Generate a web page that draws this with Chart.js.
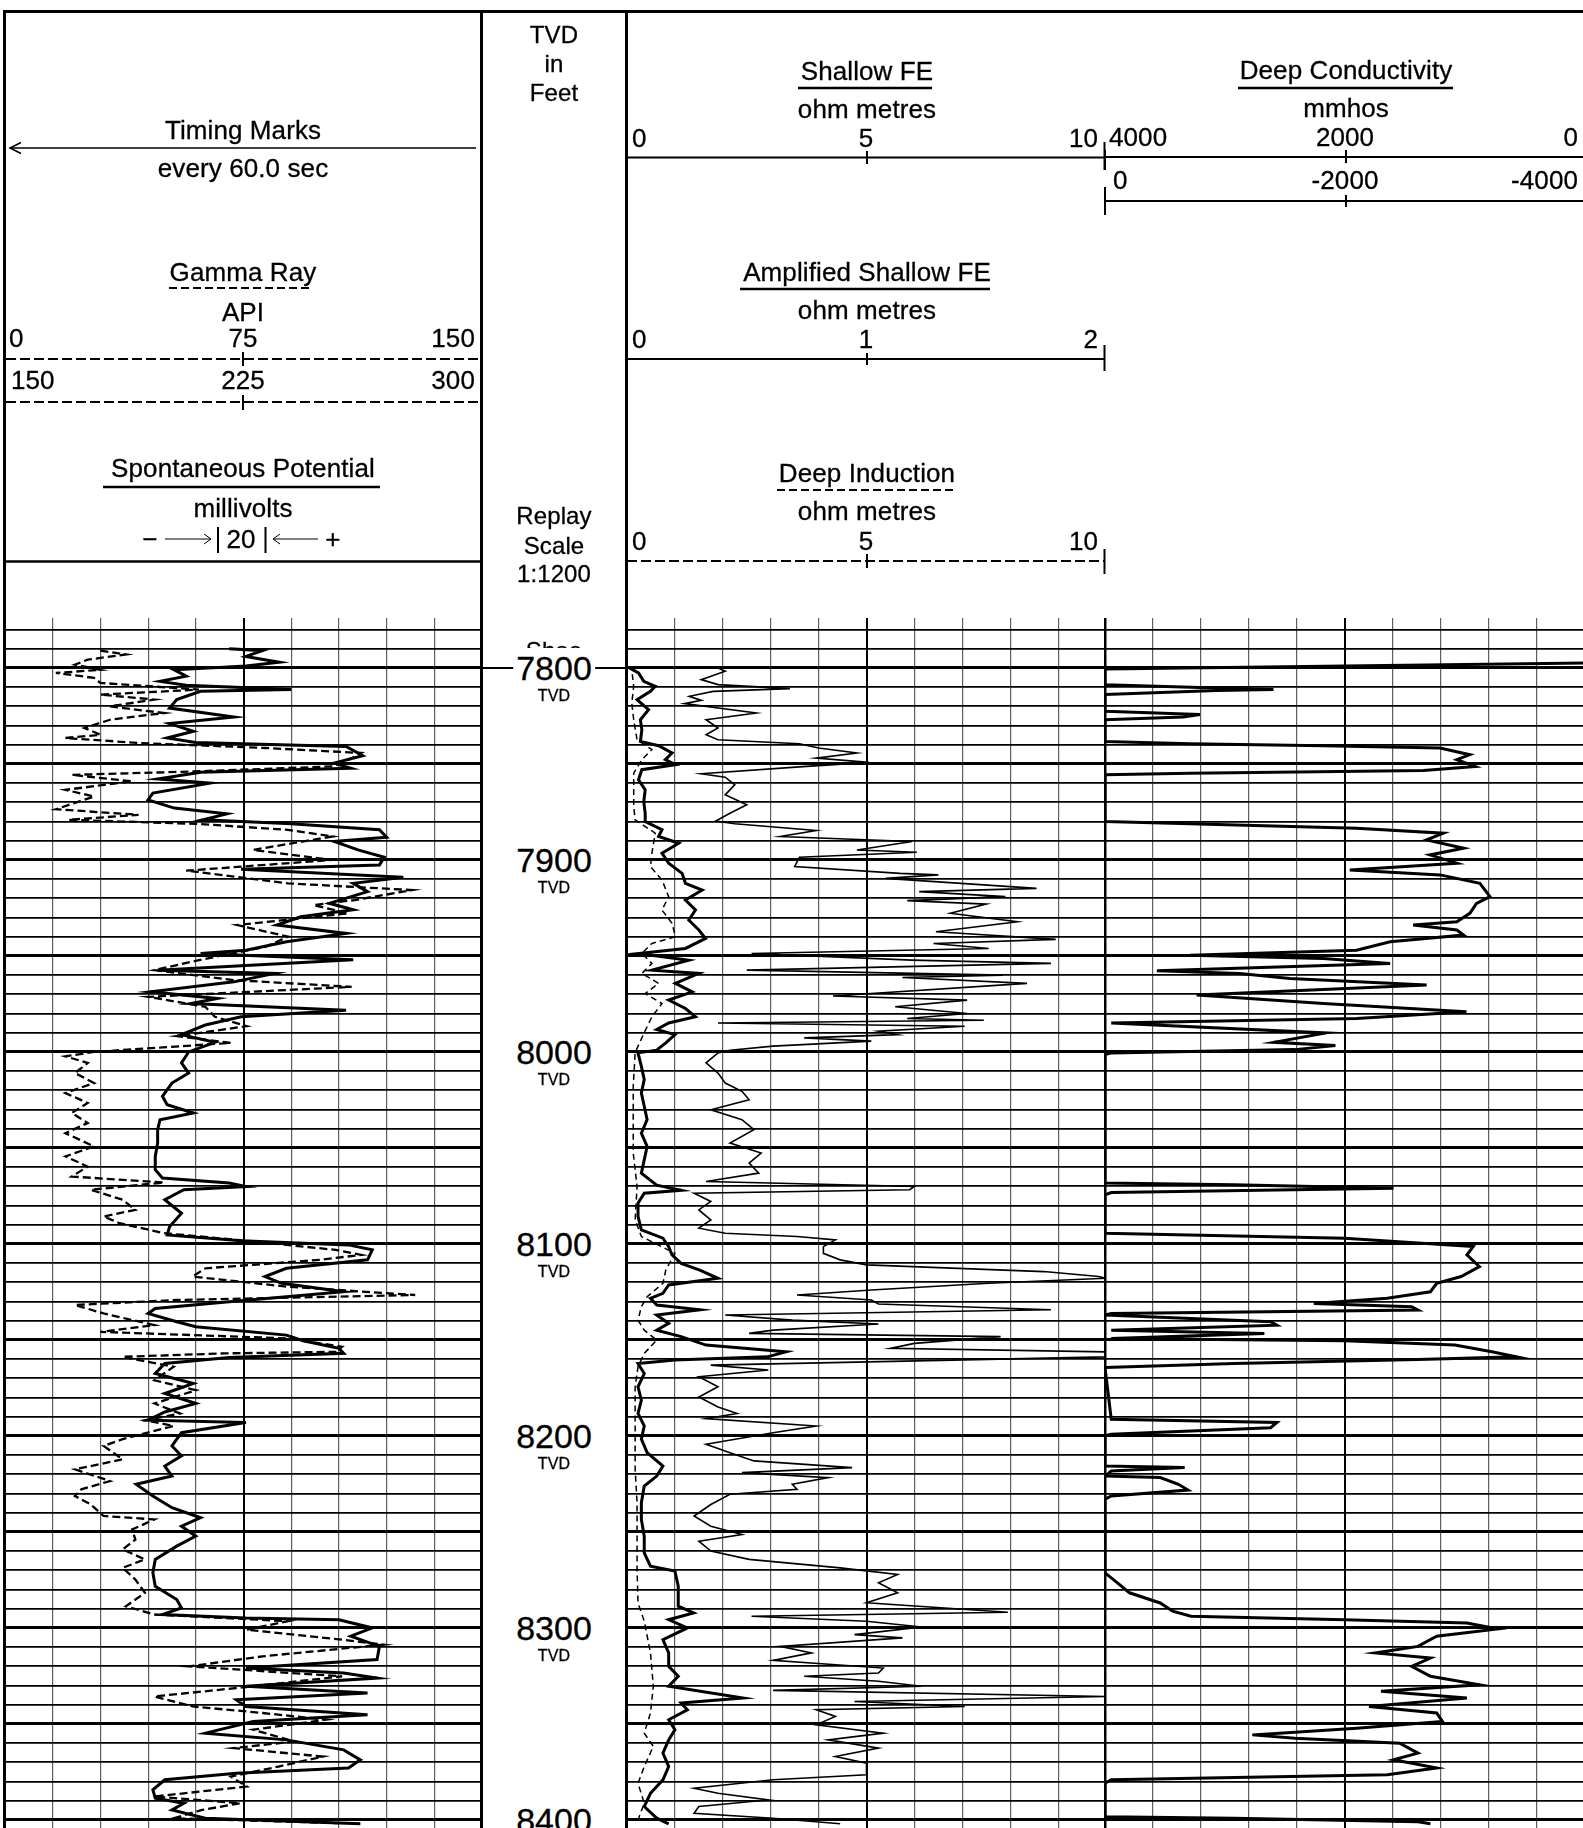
<!DOCTYPE html>
<html>
<head>
<meta charset="utf-8">
<script src="https://cdn.jsdelivr.net/npm/chart.js@4.4.1/dist/chart.umd.min.js"></script>
<style>
html, body { margin: 0; padding: 0; background: #fff; overflow: hidden; width: 1583px; height: 1828px; }
#page { position: relative; width: 1583px; height: 1828px; overflow: hidden; font-family: "Liberation Sans", Arial, sans-serif; color: #000; }
canvas { position: absolute; }
svg { position: absolute; left: 0; top: 0; }
.t { position: absolute; white-space: nowrap; line-height: 1; font-size: 26px; letter-spacing: 0.1px; -webkit-text-stroke: 0.3px #000; }
</style>
</head>
<body>
<div id="page">
  <canvas id="trk1" width="490" height="1228" style="left:0;top:600px"></canvas>
  <canvas id="trk2" width="490" height="1228" style="left:620px;top:600px"></canvas>
  <canvas id="trk3" width="490" height="1228" style="left:1100px;top:600px"></canvas>
  <svg width="1583" height="1828" stroke="#000" fill="none">
    <line x1="3" y1="11.5" x2="1583" y2="11.5" stroke-width="3"/>
    <line x1="4.5" y1="10" x2="4.5" y2="1828" stroke-width="3"/>
    <line x1="481.5" y1="10" x2="481.5" y2="1828" stroke-width="3"/>
    <line x1="626.5" y1="10" x2="626.5" y2="1828" stroke-width="3"/>
    <line x1="3" y1="561.5" x2="483" y2="561.5" stroke-width="2.5"/>
    <!-- timing marks arrow -->
    <line x1="10" y1="148" x2="476" y2="148" stroke-width="1.5"/>
    <polyline points="21,142.5 10,148 21,153.5" stroke-width="1.5"/>
    <!-- gamma ray -->
    <line x1="169" y1="288" x2="313" y2="288" stroke-width="2" stroke-dasharray="8 4"/>
    <line x1="6" y1="359" x2="480" y2="359" stroke-width="2" stroke-dasharray="10 4"/>
    <line x1="243" y1="352" x2="243" y2="366" stroke-width="2"/>
    <line x1="6" y1="402" x2="480" y2="402" stroke-width="2" stroke-dasharray="10 4"/>
    <line x1="243" y1="395" x2="243" y2="410" stroke-width="2"/>
    <!-- spontaneous potential -->
    <line x1="103" y1="487" x2="380" y2="487" stroke-width="2.5"/>
    <line x1="165" y1="539" x2="211" y2="539" stroke-width="1"/>
    <polyline points="204,534 211,539 204,544" stroke-width="1"/>
    <line x1="218" y1="527" x2="218" y2="553" stroke-width="2"/>
    <line x1="265.5" y1="527" x2="265.5" y2="553" stroke-width="2"/>
    <line x1="273" y1="539" x2="318" y2="539" stroke-width="1"/>
    <polyline points="280,534 273,539 280,544" stroke-width="1"/>
    <!-- track 2 scales -->
    <line x1="798" y1="88" x2="932" y2="88" stroke-width="2.5"/>
    <line x1="627" y1="157.5" x2="1104" y2="157.5" stroke-width="2"/>
    <line x1="867" y1="151" x2="867" y2="164" stroke-width="2"/>
    <line x1="1104.5" y1="142" x2="1104.5" y2="170" stroke-width="2"/>
    <line x1="740" y1="289" x2="990" y2="289" stroke-width="2.5"/>
    <line x1="627" y1="359" x2="1104" y2="359" stroke-width="2"/>
    <line x1="867" y1="353" x2="867" y2="365" stroke-width="2"/>
    <line x1="1104.5" y1="345" x2="1104.5" y2="371" stroke-width="2"/>
    <line x1="777" y1="490" x2="953" y2="490" stroke-width="2" stroke-dasharray="8 4"/>
    <line x1="627" y1="561" x2="1104" y2="561" stroke-width="2" stroke-dasharray="10 4"/>
    <line x1="867" y1="554" x2="867" y2="568" stroke-width="2"/>
    <line x1="1104.5" y1="549" x2="1104.5" y2="574" stroke-width="2"/>
    <!-- track 3 scales -->
    <line x1="1238" y1="88" x2="1453" y2="88" stroke-width="2.5"/>
    <line x1="1106" y1="157" x2="1583" y2="157" stroke-width="2"/>
    <line x1="1346" y1="150" x2="1346" y2="163" stroke-width="2"/>
    <line x1="1105" y1="150" x2="1105" y2="170" stroke-width="2"/>
    <line x1="1106" y1="201" x2="1583" y2="201" stroke-width="2"/>
    <line x1="1346" y1="195" x2="1346" y2="207" stroke-width="2"/>
    <line x1="1105" y1="187" x2="1105" y2="215" stroke-width="2"/>
    <!-- shoe marker in depth track -->
    <line x1="483" y1="668" x2="625" y2="668" stroke-width="2"/>
  </svg>
</div>
<script>
// Track 1: Gamma Ray (API) and Spontaneous Potential (mV)
var grDepth = [7791,7793,7795.7,7798.3,7801,7802.6,7805.2,7807.8,7811.3,7813.9,7816.5,7820,7823.5,7827,7831.3,7834.8,7836.5,7839.1,7841.7,7844.3,7847,7851.3,7854,7855.7,7859.1,7863.5,7867,7873.6,7876.5,7879.1,7881.2,7884.3,7887.8,7894.8,7900,7905.6,7912.2,7915.7,7920.9,7923.5,7927.8,7933.9,7940,7945.2,7952.2,7957.4,7962.6,7966.1,7971.3,7976.5,7981.7,7986.6,7991.8,7995.3,8000,8002.3,8005.7,8011,8016.2,8021.4,8026.6,8031.8,8037,8042.3,8049.2,8054.4,8059.7,8064.9,8068,8071.8,8077,8082.3,8085.7,8089.2,8094.4,8097.9,8103.1,8105.7,8108.3,8112.7,8117,8122.3,8126.6,8129.2,8131.8,8136.2,8142.3,8145.8,8149.2,8153.6,8156.2,8157,8158.8,8164,8171,8176.2,8183.1,8188.3,8191.8,8194.8,8201.7,8205.2,8212.2,8217.4,8223.5,8227.8,8231.3,8235.7,8241.7,8243.5,8248.7,8254,8259.1,8264.3,8268.7,8274.8,8281.7,8288.7,8293,8296.5,8300.9,8306.1,8308.7,8314.8,8320,8325.2,8330.4,8335.7,8340.9,8344.3,8347.8,8353,8359.1,8362.6,8367,8372.2,8377.4,8382.6,8387.8,8391.3,8394.8,8399.1,8401.7];
var grApi = [30,38,26,22,30,16,28,30,61,30,47,33,50,33,25,30,19,42,82,112,109,103,58,21,40,19,28,16,42,20,60,89,103,78,103,57,89,128,110,97,108,73,89,82,61,47,72,109,45,63,66,76,54,71,28,19,26,22,28,19,26,21,26,19,28,19,26,21,50,27,37,41,31,36,50,73,104,112,99,63,59,89,129,54,22,31,47,30,89,106,104,69,37,53,47,60,47,55,44,53,37,31,37,22,33,24,22,27,31,47,40,41,37,44,37,41,44,38,47,89,76,106,119,81,58,106,78,47,59,81,101,78,91,72,100,86,71,76,47,74,62,53,105];

var spDepth = [7790,7791,7794,7797,7799,7801,7804.3,7807,7809,7811.3,7812.2,7816.5,7820.9,7825.6,7829,7833,7836.5,7838.8,7840.9,7845.7,7849.6,7852.2,7854.4,7857.9,7860,7865.2,7868.7,7873,7876,7879.1,7881.2,7884.3,7888.2,7890.4,7894.8,7898.6,7902.6,7904.9,7909,7912.2,7916.5,7922.6,7926,7929.6,7933.9,7938.3,7942.6,7947,7948.7,7952,7957.4,7959.1,7963.5,7968.7,7972.2,7974.8,7978.3,7981.7,7986,7991,7995,8000,8005.7,8011,8016.2,8023.1,8027.5,8031.8,8035.3,8040.5,8047.5,8054.4,8061.4,8065.7,8068.3,8070.1,8071.8,8077,8084,8091,8095.3,8098.3,8100.5,8103.1,8108.3,8112.7,8117,8120.5,8124.9,8127.5,8130.1,8133.6,8136.2,8140.5,8143.1,8147.5,8150.4,8154.4,8157,8159.1,8162.3,8167.5,8172.7,8177.9,8183.1,8187.5,8191.8,8193,8198.3,8205.2,8210.4,8215.7,8220.9,8225.2,8231.3,8237.4,8242.6,8247,8252.2,8257.4,8264.3,8271.3,8278.3,8285.2,8289.6,8293,8294.8,8295.7,8300,8304.3,8309.6,8316.5,8320.9,8323.5,8326.1,8330.4,8333.9,8337.4,8340.9,8345.2,8348.7,8354.8,8358.3,8363.5,8368.7,8373,8375.7,8379.1,8384.3,8388.7,8391.3,8394.8,8399.1,8402];
var spMv = [-6,8,1,15,1,-29,-24,-35,-24,20,-18,-28,-31,-4,-31,-21,-32,-20,43,50,38,45,-18,-36,-14,-38,-40,-29,-7,-17,20,57,60,38,48,59,57,-1,67,46,52,36,46,24,14,43,18,1,-18,46,-36,13,-4,-39,-11,-22,43,-1,-16,-26,-12,-23,-26,-23,-30,-34,-32,-21,-35,-36,-36,-37,-37,-34,-6,1,-25,-33,-26,-31,-32,-1,44,54,52,18,9,16,42,18,-6,-37,-40,-28,-20,18,25,40,42,-6,-33,-37,-21,-33,-20,-33,-40,1,-26,-30,-26,-33,-30,-45,-38,-30,-18,-26,-20,-28,-37,-38,-37,-28,-26,-34,1,40,54,45,57,56,1,42,56,1,52,-3,1,52,4,-16,18,42,49,44,-3,-33,-38,-37,-25,-30,-16,49];

// Track 2: Shallow FE, Amplified Shallow FE, Deep Induction (ohm metres)
var sfeDepth = [7800,7802.6,7807,7809.6,7812.2,7816.5,7821.7,7827,7832.2,7838.3,7840.5,7844.3,7847.8,7850.4,7853,7858.3,7863.5,7869.6,7875.7,7880,7884.3,7887.8,7891.3,7896.5,7901.7,7907,7912.2,7915.7,7920.9,7926.1,7931.3,7936.5,7940.9,7946.1,7948.7,7952.2,7957.4,7959.1,7964.3,7968.7,7973,7977.4,7981.7,7984.9,7988.3,7991,7995.3,7999.1,8000.5,8007.5,8014.4,8021.4,8028.3,8035.3,8042.3,8049.2,8056.2,8063.1,8069.4,8072.1,8073.6,8078.8,8085.7,8092.7,8097,8101.4,8105.7,8110.1,8113.6,8117.9,8121.4,8125.7,8128.3,8131.8,8134.3,8137,8141.4,8144.9,8148.3,8152.7,8156.2,8158.8,8160.5,8162.3,8167.5,8174.4,8181.4,8188.3,8194.8,8201.7,8208.7,8215.7,8220.9,8226.1,8234.8,8243.5,8252.2,8260.9,8267.8,8270.4,8278.3,8288.7,8292.2,8295.7,8300,8306.1,8313,8320,8325.2,8330.4,8336.5,8339.1,8342.6,8347.8,8353,8358.3,8365.2,8372.2,8379.1,8386.1,8393,8399.1,8402];
var sfeOhm = [0.05,0.24,0.35,0.59,0.49,0.21,0.45,0.28,0.31,0.28,0.66,0.94,0.8,1.01,0.31,0.24,0.38,0.35,0.38,0.38,0.73,0.66,1.08,0.73,0.87,1.15,1.22,1.57,1.22,1.43,1.29,1.5,1.64,1.22,0.24,1.29,0.52,1.5,1.01,1.36,0.87,1.22,1.43,0.87,0.62,1.0,0.81,0.62,0.23,0.3,0.36,0.3,0.36,0.42,0.3,0.42,0.36,0.3,0.62,1.13,0.36,0.23,0.23,0.3,0.75,0.87,0.94,1.13,1.52,1.9,0.87,0.75,0.49,0.62,1.52,0.62,0.87,0.62,1.13,1.65,3.32,2.93,1.0,0.23,0.36,0.23,0.3,0.23,0.36,0.3,0.42,0.75,0.62,0.36,0.3,0.3,0.36,0.36,0.49,1.0,1.07,1.07,1.39,0.87,1.26,0.75,0.87,0.87,1.07,0.87,2.42,1.13,1.26,0.87,1.0,0.87,0.75,0.87,0.75,0.49,0.36,0.62,0.87];

var ampDepth = [7800,7801.7,7806.1,7808.7,7810.8,7812.2,7814.8,7816.9,7818.6,7823.5,7827,7831.3,7834.8,7837.4,7839.5,7841.7,7844.3,7847,7849.2,7851.3,7855.1,7856.9,7860.9,7866.1,7871.3,7875.7,7879.7,7881.2,7884.7,7887.8,7889.2,7890.4,7894.8,7896,7898.6,7903.5,7907,7907.8,7909.6,7914.8,7916.5,7919.1,7921.2,7923,7927.8,7932.2,7937.4,7941.4,7943.5,7946.1,7948.7,7952.2,7953.9,7957.4,7960,7961.2,7964.3,7970.9,7973,7976.5,7980,7982.6,7983.5,7984.9,7986.6,7989.2,7991,7992.7,7994.4,7997,7999.1,8000.5,8005.7,8011,8016.2,8020.5,8024.9,8030.1,8035.3,8040.5,8047.5,8052.7,8057.9,8063.1,8067.5,8070.1,8071.8,8073.6,8077.9,8082.3,8087.5,8091.8,8094.4,8096.1,8097.9,8101.4,8104.9,8108.3,8110.9,8114.4,8117,8117.9,8120.5,8124,8126.6,8129.2,8131.3,8134.3,8137,8139.7,8141.7,8144.9,8146.6,8148.3,8151.8,8154.4,8156.2,8158.8,8160.5,8163.1,8165.7,8169.2,8174.4,8179.7,8184.9,8188.3,8191,8194.8,8198.3,8204.3,8208.7,8213,8216.5,8219.1,8221.7,8225.2,8227.8,8230.4,8235.7,8241.7,8247,8251.3,8254.8,8260,8264.3,8268.7,8272.2,8276.5,8281.7,8286.9,8291.8,8293.9,8296.5,8299.5,8303.5,8305.2,8309.6,8313,8316.9,8320.9,8323.5,8325.2,8327.8,8330.4,8332.5,8335.7,8338.3,8340.9,8342.6,8346.1,8350.4,8354.8,8358.3,8362.6,8367,8370.4,8376.5,8379.1,8383.5,8386.1,8389.6,8393,8396.5,8399.1,8402];
var ampOhm = [0.38,0.41,0.31,0.38,0.68,0.36,0.26,0.31,0.24,0.54,0.33,0.38,0.33,0.38,0.72,0.8,0.96,0.79,1.01,0.75,0.31,0.41,0.45,0.41,0.5,0.43,0.37,0.45,0.79,0.64,0.94,1.19,0.96,1.21,0.72,0.7,1.14,1.3,1.08,1.71,1.22,1.58,1.17,1.5,1.35,1.63,1.29,1.79,1.28,1.51,0.52,1.19,1.77,0.5,1.57,1.15,1.67,0.86,1.42,1.12,1.42,1.17,1.49,0.38,1.41,1.05,1.13,0.74,1.02,0.61,0.43,0.38,0.33,0.38,0.41,0.48,0.51,0.35,0.48,0.53,0.43,0.56,0.51,0.55,0.33,1.2,1.18,0.28,0.35,0.3,0.35,0.3,0.41,0.71,0.87,0.82,0.82,0.89,1.0,1.74,1.97,2.0,1.51,1.02,0.71,1.02,1.05,1.77,0.41,0.69,1.05,0.61,0.51,1.56,1.2,1.1,2.0,2.0,1.36,0.35,0.59,0.3,0.38,0.3,0.38,0.46,0.33,0.79,0.61,0.33,0.43,0.53,0.94,0.48,0.84,0.69,0.71,0.43,0.35,0.28,0.35,0.48,0.3,0.35,0.51,0.89,1.13,1.05,1.13,1.0,1.59,0.52,1.0,1.23,0.95,1.15,0.64,0.77,0.61,1.07,1.05,0.74,1.05,1.23,0.61,2.0,0.95,1.41,0.79,0.87,0.79,1.07,0.84,1.05,0.87,1.0,1.0,0.61,0.28,0.38,0.59,0.3,0.28,0.61,0.89];

var ildDepth = [7799.5,7800.2,7801,7809.6,7818.3,7827,7837.4,7842.6,7847.8,7854.8,7861.7,7872.2,7879.1,7886.1,7896.5,7903.5,7910.4,7919.1,7926.1,7933,7940,7943.5,7948.7,7953.9,7959.1,7964.3,7969.6,7974.8,7981.7,7990,7997,8000.5,8017.9,8035.3,8052.7,8070.1,8087.5,8096.1,8104.9,8113.6,8120.5,8127.5,8132.7,8139.7,8144.9,8150.1,8157,8164,8174.4,8188.3,8200,8217.4,8234.8,8252.2,8269.6,8287,8296.5,8313,8330.4,8344.3,8354.8,8361.7,8372.2,8380.9,8391.3,8400];
var ildOhm = [10,0.1,0.1,0.14,0.1,0.14,0.21,0.52,0.31,0.14,0.14,0.14,0.17,0.59,0.52,0.49,0.73,0.87,0.73,0.94,1.01,0.52,0.31,0.52,0.31,0.66,0.38,0.73,0.52,0.36,0.23,0.17,0.13,0.13,0.13,0.21,0.17,0.3,1.0,0.81,0.75,0.42,0.3,0.23,0.36,0.62,0.36,0.23,0.17,0.17,0.17,0.17,0.21,0.21,0.21,0.23,0.36,0.49,0.55,0.49,0.36,0.55,0.36,0.23,0.36,0.23];

// Track 3: Deep Conductivity (mmhos)
var condDepth = [7797.5,7800.5,7808.7,7810.4,7811.3,7811.8,7813.9,7822.6,7824.3,7825.6,7827,7838.3,7839.5,7840.5,7841.7,7845.2,7847.8,7851.3,7853.4,7854.8,7855.7,7880,7881.2,7883.5,7886.1,7889.6,7893.9,7897.4,7901.7,7905.2,7907.8,7912.2,7919.1,7922.6,7927.8,7932.2,7933.9,7936.5,7939.1,7942.6,7947,7949.6,7951.3,7953.9,7957.7,7959.1,7961.7,7965.2,7970.4,7974.8,7979.1,7982.6,7984.9,7990.1,7995,7996.7,7998.8,8000.5,8001.4,8068.3,8069.2,8071,8073.2,8074.4,8094.4,8097,8101.4,8105.7,8111.8,8117,8120.5,8124.9,8128.3,8131,8132.7,8134.4,8136.2,8137,8140.5,8142.3,8144.9,8146.6,8149.2,8150.4,8152.7,8156.2,8158.8,8160.2,8162.3,8164.3,8191.3,8193,8195.7,8199.1,8200,8215.7,8216.5,8218.3,8220.9,8221.7,8225.2,8228.2,8231.3,8233,8271.3,8276.5,8281.7,8287,8291.3,8293.9,8295.7,8297.4,8300.5,8304.3,8309.6,8313,8315.7,8320,8325.2,8329.6,8333,8336.5,8340.9,8344.3,8348.7,8352.2,8355.7,8357.4,8360,8365.2,8368.7,8373,8376.5,8379.1,8380.9,8398.3,8399.1,8400.9,8402];
var condMmho = [0,4000,4000,3068,2596,3068,4000,4000,3208,3348,4000,4000,3292,2180,1208,960,1068,916,1348,3292,4000,4000,3292,1904,1180,1320,1012,1292,1068,1960,1208,876,792,904,960,1068,1432,1068,1012,1624,1904,3292,2180,1624,3568,2876,2460,1320,3236,2180,988,1904,3948,2160,2592,2080,2416,3948,4000,4000,2924,1596,3948,4000,4000,2004,932,984,880,1032,1236,1288,1648,2260,1444,1392,3948,4000,2620,2568,3948,2672,3948,2004,1084,776,572,1392,2924,4000,3948,2568,2620,3948,4000,4000,3336,3948,4000,3540,3388,3308,3948,4000,4000,3896,3796,3540,3436,3284,2004,984,728,1236,1392,1748,1288,1444,1288,880,1700,984,1800,1236,1188,1904,2772,2416,1544,1392,1596,1236,1648,3948,4000,4000,2924,1392,1288];

// depth track labels
var depthLabels = [7800, 7900, 8000, 8100, 8200, 8300, 8400];

var page = document.getElementById('page');

function txt(s, x, y, size, align) {
  var el = document.createElement('div');
  el.className = 't';
  el.textContent = s;
  el.style.left = x + 'px';
  el.style.top = y + 'px';
  if (size) el.style.fontSize = size + 'px';
  var tx = align === 'left' ? '0' : (align === 'right' ? '-100%' : '-50%');
  el.style.transform = 'translate(' + tx + ',-50%)';
  page.appendChild(el);
  return el;
}

function pts(depths, vals) {
  return depths.map(function (d, i) { return { x: vals[i], y: d }; });
}

function divTicks(min, max) {
  var a = [];
  for (var i = 0; i <= 10; i++) a.push({ value: min + (max - min) * i / 10 });
  return a;
}

var depthTicks = [];
for (var dd = 7780; dd <= 8400; dd += 10) depthTicks.push({ value: dd });

function yAxis() {
  return {
    type: 'linear', reverse: true, min: 7774, max: 8404.2,
    afterBuildTicks: function (s) { s.ticks = depthTicks.slice(); },
    afterFit: function (s) { s.width = 0; },
    ticks: { display: false, autoSkip: false },
    border: { display: false },
    grid: {
      drawTicks: false, color: '#000',
      lineWidth: function (c) { return c.tick && c.tick.value % 50 === 0 ? 3 : 1.8; }
    }
  };
}

function xAxis(min, max, reverse, strongEdge) {
  return {
    type: 'linear', min: min, max: max, reverse: !!reverse,
    afterBuildTicks: function (s) { s.ticks = divTicks(min, max); },
    afterFit: function (s) { s.height = 0; },
    ticks: { display: false, autoSkip: false },
    border: { display: false },
    grid: {
      drawTicks: false,
      color: function (c) {
        return (c.index === 5 || c.tick.value === strongEdge) ? '#000' : '#5e5e5e';
      },
      lineWidth: function (c) {
        if (c.tick.value === strongEdge) return 2.5;
        if (c.index === 5) return 2;
        if (c.index === 0 || c.index === 10) return 0;
        return 1.2;
      }
    }
  };
}

function hidden(min, max) {
  return { type: 'linear', min: min, max: max, display: false };
}

function curve(data, axis, width, dash) {
  return {
    data: data, xAxisID: axis, yAxisID: 'y', showLine: true,
    borderColor: '#000', backgroundColor: '#000', borderWidth: width,
    borderDash: dash || [], pointRadius: 0, tension: 0, fill: false
  };
}

function track(id, datasets, scales, pad) {
  return new Chart(document.getElementById(id), {
    type: 'scatter',
    data: { datasets: datasets },
    options: {
      responsive: false, animation: false, events: [],
      layout: { padding: pad },
      plugins: { legend: { display: false }, tooltip: { enabled: false } },
      scales: scales
    }
  });
}

var chart1 = track('trk1', [
  curve(pts(grDepth, grApi), 'x', 2.3, [8, 4]),
  curve(pts(spDepth, spMv), 'sp', 3)
], { x: xAxis(0, 150, false, null), sp: hidden(-100, 100), y: yAxis() },
{ left: 5, right: 8, top: 18, bottom: 0 });

track('trk2', [
  curve(pts(ampDepth, ampOhm), 'amp', 1.6),
  curve(pts(ildDepth, ildOhm), 'x', 1.5, [6, 4]),
  curve(pts(sfeDepth, sfeOhm), 'x', 3)
], { x: xAxis(0, 10, false, null), amp: hidden(0, 2), y: yAxis() },
{ left: 7, right: 4, top: 18, bottom: 0 });

track('trk3', [
  curve(pts(condDepth, condMmho), 'x', 3)
], { x: xAxis(0, 4000, true, 4000), y: yAxis() },
{ left: 5, right: 5, top: 18, bottom: 0 });

// header: track 1
txt('Timing Marks', 243, 130);
txt('every 60.0 sec', 243, 168);
txt('Gamma Ray', 243, 272);
txt('API', 243, 312);
txt('0', 9, 338, null, 'left');
txt('75', 243, 338);
txt('150', 475, 338, null, 'right');
txt('150', 11, 380, null, 'left');
txt('225', 243, 380);
txt('300', 475, 380, null, 'right');
txt('Spontaneous Potential', 243, 468);
txt('millivolts', 243, 508);
txt('\u2212', 150, 539);
txt('20', 241, 539);
txt('+', 333, 539);

// header: depth track
txt('TVD', 554, 35, 24);
txt('in', 554, 64, 24);
txt('Feet', 554, 93, 24);
txt('Replay', 554, 516, 24);
txt('Scale', 554, 546, 24);
txt('1:1200', 554, 574, 24);
txt('Shoe', 554, 651, 24);

// header: track 2
txt('Shallow FE', 867, 71);
txt('ohm metres', 867, 109);
txt('0', 632, 138, null, 'left');
txt('5', 866, 138);
txt('10', 1098, 138, null, 'right');
txt('Amplified Shallow FE', 867, 272);
txt('ohm metres', 867, 310);
txt('0', 632, 339, null, 'left');
txt('1', 866, 339);
txt('2', 1098, 339, null, 'right');
txt('Deep Induction', 867, 473);
txt('ohm metres', 867, 511);
txt('0', 632, 541, null, 'left');
txt('5', 866, 541);
txt('10', 1098, 541, null, 'right');

// header: track 3
txt('Deep Conductivity', 1346, 70);
txt('mmhos', 1346, 108);
txt('4000', 1109, 137, null, 'left');
txt('2000', 1345, 137);
txt('0', 1578, 137, null, 'right');
txt('0', 1113, 180, null, 'left');
txt('-2000', 1345, 180);
txt('-4000', 1578, 180, null, 'right');

// depth labels placed through the depth scale
var ys = chart1.scales.y;
depthLabels.forEach(function (d) {
  var y = 600 + ys.getPixelForValue(d);
  var n = txt(String(d), 554, y, 34);
  n.style.background = '#fff';
  n.style.lineHeight = '40px';
  n.style.padding = '0 3px';
  n.style.letterSpacing = '0';
  txt('TVD', 554, y + 28, 16);
});
</script>
</body>
</html>
